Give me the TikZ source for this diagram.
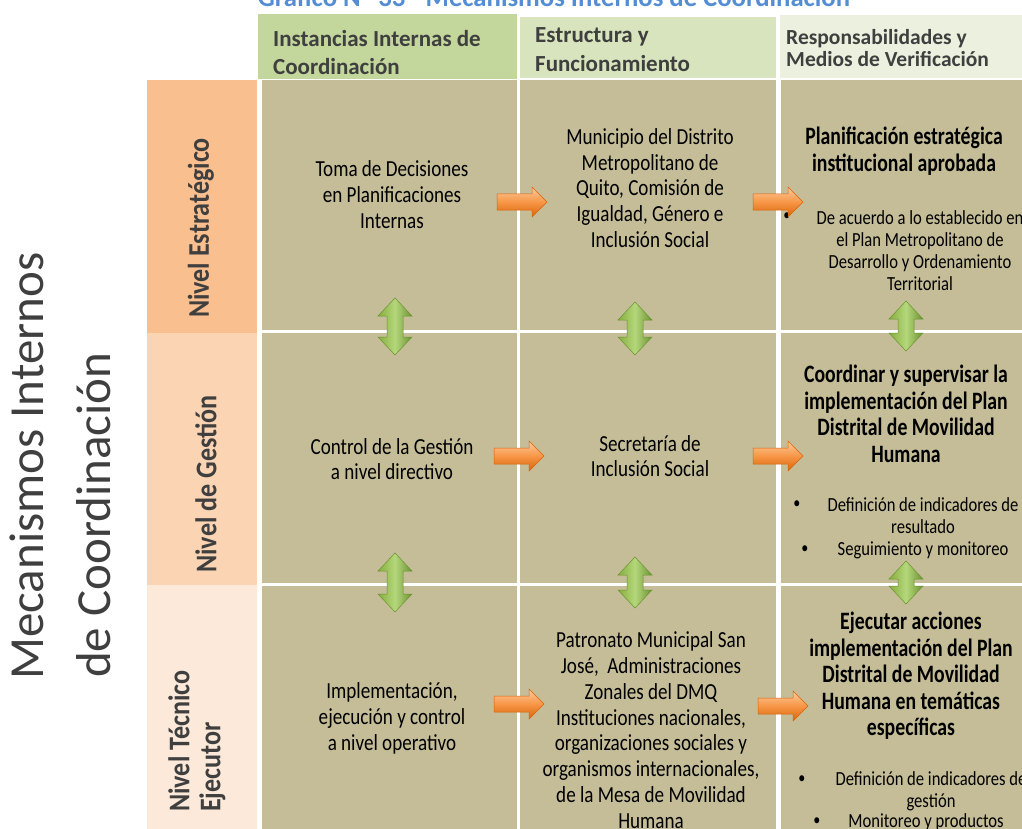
\documentclass[tikz,border=0pt]{standalone}
\usepackage{fontspec}
\setmainfont{Carlito}
\newfontfamily\bodyf[FakeStretch=0.83]{Carlito}
\newfontfamily\boldf[FakeStretch=0.79]{Carlito}
\newfontfamily\lblf[FakeStretch=0.87]{Carlito}
\definecolor{cellc}{HTML}{C4BD97}
\definecolor{hA}{HTML}{C3D69B}
\definecolor{hB}{HTML}{D7E4BD}
\definecolor{hC}{HTML}{EBF1DE}
\definecolor{lA}{HTML}{FABF8F}
\definecolor{lB}{HTML}{FBD4B4}
\definecolor{lC}{HTML}{FDE9D9}
\definecolor{txtg}{HTML}{3F3F3F}
\definecolor{titleb}{HTML}{548DD4}
\definecolor{oTop}{HTML}{FCCB9E}
\definecolor{oMid}{HTML}{F79646}
\definecolor{oBot}{HTML}{D9650A}
\definecolor{gL}{HTML}{86AE3E}
\definecolor{gM}{HTML}{B5D77C}
\definecolor{gR}{HTML}{6B9330}
\newcommand\oarrow[2]{\draw[oarr] (#1,#2-8) -- (#1+35,#2-8) -- (#1+35,#2-15) -- (#1+50,#2) -- (#1+35,#2+15) -- (#1+35,#2+8) -- (#1,#2+8) -- cycle;}
\newcommand\gdarrow[3]{\draw[garr] (#1,#2) -- (#1+17,#2+18) -- (#1+8,#2+18) -- (#1+8,#3-18) -- (#1+17,#3-18) -- (#1,#3) -- (#1-17,#3-18) -- (#1-8,#3-18) -- (#1-8,#2+18) -- (#1-17,#2+18) -- cycle;}
\begin{document}
\begin{tikzpicture}[x=1pt,y=-1pt,
  oarr/.style={top color=oTop, bottom color=oBot, middle color=oMid, draw=oBot, line width=0.5pt},
  garr/.style={left color=gL, right color=gR, middle color=gM, draw=gR, line width=0.5pt},
  hdr/.style={font=\bfseries\fontsize{23}{28}\selectfont, text=txtg, anchor=base west, inner sep=0},
  hdrs/.style={font=\bfseries\fontsize{21.5}{24}\selectfont, text=txtg, anchor=base west, inner sep=0},
  lbl/.style={font=\lblf\bfseries\fontsize{30}{32}\selectfont, text=txtg, rotate=90, inner sep=0},
  bigt/.style={font=\fontsize{49}{60}\selectfont, text=txtg, rotate=90, inner sep=0, anchor=base west},
  body/.style={font=\bodyf\fontsize{23}{25.8}\selectfont, align=center, inner sep=0},
  bold/.style={font=\boldf\bfseries\fontsize{25}{26.5}\selectfont, align=center, inner sep=0},
  small/.style={font=\bodyf\fontsize{20}{22}\selectfont, align=center, inner sep=0},
  bul/.style={font=\bodyf\fontsize{17}{22}\selectfont, inner sep=0}]
\useasboundingbox (0,0) rectangle (1022,829);
\clip (0,0) rectangle (1022,829);
\fill[white] (0,0) rectangle (1022,829);
% title
\node[font=\bfseries\fontsize{26.7}{30}\selectfont, text=titleb, anchor=base, inner sep=0] (title) at (554,7) {Gráfico Nº 33 - Mecanismos Internos de Coordinación};
% header cells
\fill[hA] (258,14) rectangle (517,79);
\fill[hB] (520,17) rectangle (776,78);
\fill[hC] (780,15) rectangle (1022,78);
\node[hdr] (h1a) at (273,47) {Instancias Internas de};
\node[hdr] (h1b) at (273,75) {Coordinación};
\node[hdr] (h2a) at (535,43) {Estructura y};
\node[hdr] (h2b) at (535,72) {Funcionamiento};
\node[hdrs] (h3a) at (786,45) {Responsabilidades y};
\node[hdrs] (h3b) at (786,67) {Medios de Verificación};
% row labels
\fill[lA] (147,80) rectangle (257,333);
\fill[lB] (147,333) rectangle (257,585);
\fill[lC] (147,585) rectangle (257,829);
\node[lbl] (l1) at (201,228) {Nivel Estratégico};
\node[lbl] (l2) at (206,484) {Nivel de Gestión};
\node[lbl, align=left, anchor=west, font=\lblf\bfseries\fontsize{30}{31}\selectfont] (l3) at (197,812) {Nivel Técnico\\Ejecutor};
% big title
\node[bigt] (t1) at (43,680) {Mecanismos Internos};
\node[bigt] (t2) at (110,678) {de Coordinación};
% grid cells
\fill[cellc] (262,80) rectangle (517,330);
\fill[cellc] (520,80) rectangle (776,330);
\fill[cellc] (781,80) rectangle (1022,330);
\fill[cellc] (262,333) rectangle (517,583);
\fill[cellc] (520,333) rectangle (776,583);
\fill[cellc] (781,333) rectangle (1022,583);
\fill[cellc] (262,586) rectangle (517,829);
\fill[cellc] (520,586) rectangle (776,829);
\fill[cellc] (781,586) rectangle (1022,829);
% row 1
\node[body] (n11) at (392,194.5) {Toma de Decisiones\\en Planificaciones\\Internas};
\node[body] (n12) at (650,188) {Municipio del Distrito\\Metropolitano de\\Quito, Comisión de\\Igualdad, Género e\\Inclusión Social};
\node[bold] (n13a) at (904,151) {Planificación estratégica\\institucional aprobada};
\node[bul] (b13) at (787,217) {•};
\node[small] (n13b) at (920,251) {De acuerdo a lo establecido en\\el Plan Metropolitano de\\Desarrollo y Ordenamiento\\Territorial};
% row 2
\node[body] (n21) at (392,459) {Control de la Gestión\\a nivel directivo};
\node[body] (n22) at (650,456) {Secretaría de\\Inclusión Social};
\node[bold] (n23a) at (906,414) {Coordinar y supervisar la\\implementación del Plan\\Distrital de Movilidad\\Humana};
\node[bul] (b23a) at (797,505) {•};
\node[small] (n23b) at (923,516) {Definición de indicadores de\\resultado};
\node[bul] (b23b) at (805,550) {•};
\node[small] (n23c) at (923,550) {Seguimiento y monitoreo};
% row 3
\node[body] (n31) at (392,718.5) {Implementación,\\ejecución y control\\a nivel operativo};
\node[body] (n32) at (651,730) {Patronato Municipal San\\José,\ \ Administraciones\\Zonales del DMQ\\Instituciones nacionales,\\organizaciones sociales y\\organismos internacionales,\\de la Mesa de Movilidad\\Humana};
\node[bold] (n33a) at (911,676) {Ejecutar acciones\\implementación del Plan\\Distrital de Movilidad\\Humana en temáticas\\específicas};
\node[bul] (b33a) at (802,780) {•};
\node[small] (n33b) at (931,791) {Definición de indicadores de\\gestión};
\node[bul] (b33b) at (817,822) {•};
\node[small] (n33c) at (926,822) {Monitoreo y productos};
% orange arrows
\oarrow{497}{202}
\oarrow{753}{202}
\oarrow{494}{456}
\oarrow{753}{456}
\oarrow{494}{704}
\oarrow{758}{706}
% green double arrows
\gdarrow{395}{298}{355}
\gdarrow{635}{302}{355}
\gdarrow{906}{301}{351}
\gdarrow{395}{553}{612}
\gdarrow{635}{557}{608}
\gdarrow{906}{561}{604}
\end{tikzpicture}
\end{document}
